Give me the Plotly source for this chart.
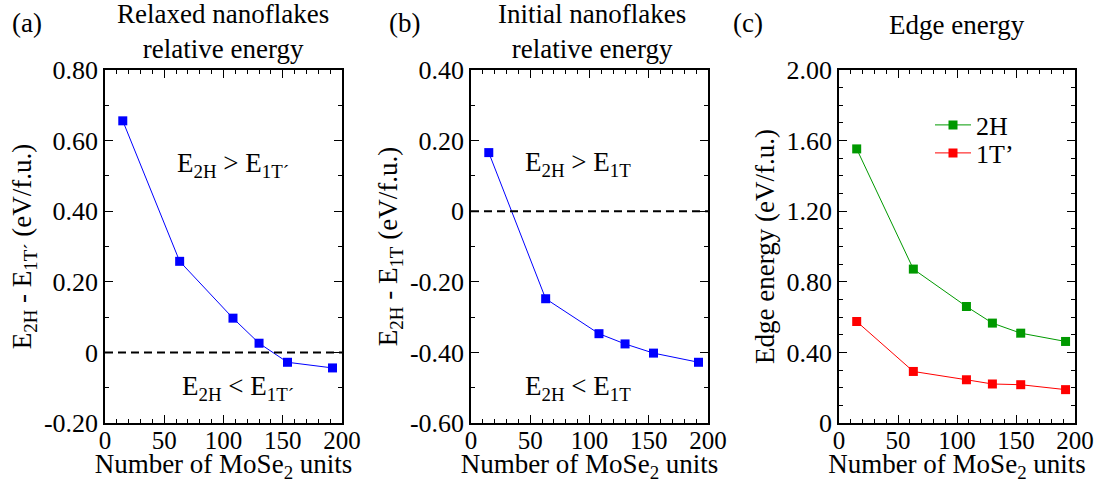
import plotly.graph_objects as go

# ---------------- data ----------------
n_units = [15, 63, 108, 130, 154, 192]
relaxed_diff = [0.656, 0.258, 0.097, 0.026, -0.028, -0.044]
initial_diff = [0.166, -0.248, -0.347, -0.376, -0.402, -0.428]
edge_2h = [1.553, 0.872, 0.660, 0.566, 0.509, 0.462]
edge_1t = [0.575, 0.292, 0.245, 0.221, 0.217, 0.189]

x_ticks = [0, 50, 100, 150, 200]
ya_ticks = [-0.2, 0.0, 0.2, 0.4, 0.6, 0.8]
ya_text = ["-0.20", "0", "0.20", "0.40", "0.60", "0.80"]
yb_ticks = [-0.6, -0.4, -0.2, 0.0, 0.2, 0.4]
yb_text = ["-0.60", "-0.40", "-0.20", "0", "0.20", "0.40"]
yc_ticks = [0.0, 0.4, 0.8, 1.2, 1.6, 2.0]
yc_text = ["0", "0.40", "0.80", "1.20", "1.60", "2.00"]

FONT = "Liberation Serif"
W, H = 1098, 483

def px_x(p):
    return p / W

def px_y(p):
    return 1 - p / H

top, bottom = 70, 423
doms = [(105, 342), (471, 708), (839, 1075)]

fig = go.Figure()

blue = "#0000ff"
green = "#009900"
red = "#ff0000"

fig.add_trace(go.Scatter(x=n_units, y=relaxed_diff, mode="lines+markers",
                         line=dict(color=blue, width=1),
                         marker=dict(symbol="square", size=9, color=blue),
                         showlegend=False, xaxis="x", yaxis="y"))
fig.add_trace(go.Scatter(x=n_units, y=initial_diff, mode="lines+markers",
                         line=dict(color=blue, width=1),
                         marker=dict(symbol="square", size=9, color=blue),
                         showlegend=False, xaxis="x2", yaxis="y2"))
fig.add_trace(go.Scatter(x=n_units, y=edge_2h, mode="lines+markers", name="2H",
                         line=dict(color=green, width=1),
                         marker=dict(symbol="square", size=9, color=green),
                         xaxis="x3", yaxis="y3", legend="legend"))
fig.add_trace(go.Scatter(x=n_units, y=edge_1t, mode="lines+markers", name="1T’",
                         line=dict(color=red, width=1),
                         marker=dict(symbol="square", size=9, color=red),
                         xaxis="x3", yaxis="y3", legend="legend2"))

def xaxis(dom, anchor, title):
    return dict(domain=[px_x(dom[0]), px_x(dom[1])], anchor=anchor, automargin=False,
                range=[0, 200], tickvals=x_ticks, ticks="inside", ticklen=8,
                tickwidth=1.3, tickcolor="black", ticklabelstandoff=-6,
                minor=dict(dtick=10, ticks="inside", ticklen=4, tickcolor="black", tickwidth=1),
                showline=True, linecolor="black", linewidth=1.5, mirror="allticks",
                showgrid=False, zeroline=False,
                tickfont=dict(family=FONT, size=25, color="black"),
                title=dict(text=title, font=dict(family=FONT, size=27, color="black"), standoff=1))

def yaxis(dom_anchor, rng, tv, tt, title, dt_minor):
    return dict(domain=[px_y(bottom), px_y(top)], anchor=dom_anchor, automargin=False,
                range=rng, tickvals=tv, ticktext=tt, ticks="inside", ticklen=8,
                tickwidth=1.3, tickcolor="black",
                minor=dict(dtick=dt_minor, tick0=0, ticks="inside", ticklen=4, tickcolor="black", tickwidth=1),
                showline=True, linecolor="black", linewidth=1.5, mirror="allticks",
                showgrid=False, zeroline=False,
                tickfont=dict(family=FONT, size=26, color="black"),
                title=dict(text=title, font=dict(family=FONT, size=27, color="black"), standoff=4))

xt = "Number of MoSe<sub>2</sub> units"
legend_common = dict(xanchor="left", yanchor="middle",
                     font=dict(family=FONT, size=26, color="black"),
                     bgcolor="rgba(0,0,0,0)", itemwidth=36)
fig.update_layout(
    template="none",
    width=W, height=H,
    margin=dict(l=0, r=0, t=0, b=0, autoexpand=False),
    paper_bgcolor="white", plot_bgcolor="white",
    font=dict(family=FONT, color="black"),
    xaxis=xaxis(doms[0], "y", xt),
    xaxis2=xaxis(doms[1], "y2", xt),
    xaxis3=xaxis(doms[2], "y3", xt),
    yaxis=yaxis("x", [-0.2, 0.8], ya_ticks, ya_text,
                "E<sub>2H</sub> - E<sub>1T´</sub> (eV/f.u.)", 0.1),
    yaxis2=yaxis("x2", [-0.6, 0.4], yb_ticks, yb_text,
                 "E<sub>2H</sub> - E<sub>1T</sub> (eV/f.u.)", 0.1),
    yaxis3=yaxis("x3", [0, 2.0], yc_ticks, yc_text,
                 "Edge energy (eV/f.u.)", 0.1),
    legend=dict(x=px_x(930), y=px_y(125), **legend_common),
    legend2=dict(x=px_x(930), y=px_y(153), **legend_common),
    showlegend=True,
)

# zero reference lines
for xr, yr in [("x", "y"), ("x2", "y2")]:
    fig.add_shape(type="line", xref=xr, yref=yr, x0=0, x1=200, y0=0, y1=0,
                  line=dict(color="black", width=2, dash="8px,5px"))

annots = [
    ("(a)", 27, 23),
    ("(b)", 404, 23),
    ("(c)", 748, 23),
]
for txt, xx, yy in annots:
    fig.add_annotation(text=txt, xref="paper", yref="paper", x=px_x(xx), y=px_y(yy),
                       xanchor="center", yanchor="middle", showarrow=False,
                       font=dict(family=FONT, size=27, color="black"))

titles = [
    ("Relaxed nanoflakes<br>relative energy", 223, 32),
    ("Initial nanoflakes<br>relative energy", 592, 32),
    ("Edge energy", 957, 25),
]
for txt, xx, yy in titles:
    fig.add_annotation(text=txt, xref="paper", yref="paper", x=px_x(xx), y=px_y(yy),
                       xanchor="center", yanchor="middle", showarrow=False,
                       font=dict(family=FONT, size=27, color="black"))

inside = [
    ("E<sub>2H</sub> > E<sub>1T´</sub>", "x", "y", 108, 0.53),
    ("E<sub>2H</sub> < E<sub>1T´</sub>", "x", "y", 112, -0.10),
    ("E<sub>2H</sub> > E<sub>1T</sub>", "x2", "y2", 90, 0.135),
    ("E<sub>2H</sub> < E<sub>1T</sub>", "x2", "y2", 90, -0.50),
]
for txt, xr, yr, xx, yy in inside:
    fig.add_annotation(text=txt, xref=xr, yref=yr, x=xx, y=yy, showarrow=False,
                       xanchor="center", yanchor="middle",
                       font=dict(family=FONT, size=27, color="black"))

# force the serif face on every svg text (axis labels included)
post = (
    "var st=document.createElement('style');"
    "st.textContent=\"svg text, svg tspan {font-family: 'Liberation Serif', 'Times New Roman', serif !important;}\";"
    "document.head.appendChild(st);"
)
fig.write_html("out.html", post_script=post)
